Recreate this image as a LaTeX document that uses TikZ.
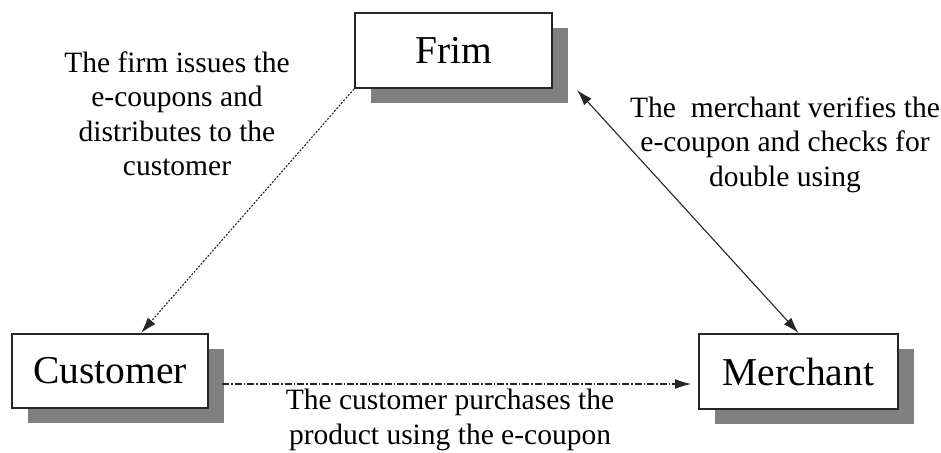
\documentclass[tikz,border=0pt]{standalone}
\usepackage{fontspec}
\setmainfont{Liberation Serif}
\usetikzlibrary{arrows.meta,shadows}
\begin{document}
\begin{tikzpicture}[x=1pt,y=-1pt,
  boxnode/.style={draw=black!85,line width=2pt,fill=white,inner sep=0pt,
    font=\fontsize{39.5}{42}\selectfont,
    general shadow={fill=black!50,shadow xshift=16pt,shadow yshift=-15pt}},
  lbl/.style={align=center,font=\fontsize{29.5}{34.5}\selectfont,inner sep=0pt,anchor=base},
  tip/.style={-{Latex[length=16pt,width=10pt]}},
  conn/.style={line width=1.1pt,black!85}]
\useasboundingbox (0,0) rectangle (941,452);
\node[boxnode,minimum width=197pt,minimum height=75pt] (frim) at (453.5,50.5) {Frim};
\node[boxnode,minimum width=196pt,minimum height=74pt] (cust) at (110,371) {Customer};
\node[boxnode,minimum width=199pt,minimum height=75pt] (merch) at (798.5,371.5) {Merchant};
\coordinate (c1) at (141,333);
\coordinate (f2) at (577,90);
\coordinate (c3) at (222,384);
\coordinate (m3) at (691,384);
\draw[conn,tip,dash pattern=on 2pt off 1.5pt] (frim.south west) -- (c1);
\draw[conn,{Latex[length=16pt,width=10pt]}-{Latex[length=16pt,width=10pt]}] (f2) -- (merch.north);
\draw[conn,tip,dash pattern=on 7pt off 2pt on 1.5pt off 2pt] (c3) -- (m3);
\node[lbl] (t1) at (177,175.5) {The firm issues the\\e-coupons and\\distributes to the\\customer};
\node[lbl] (t2) at (785,186) {The\ \ merchant verifies the\\e-coupon and checks for\\double using};
\node[lbl] (t3) at (450,444) {The customer purchases the\\product using the e-coupon};
\end{tikzpicture}
\end{document}
